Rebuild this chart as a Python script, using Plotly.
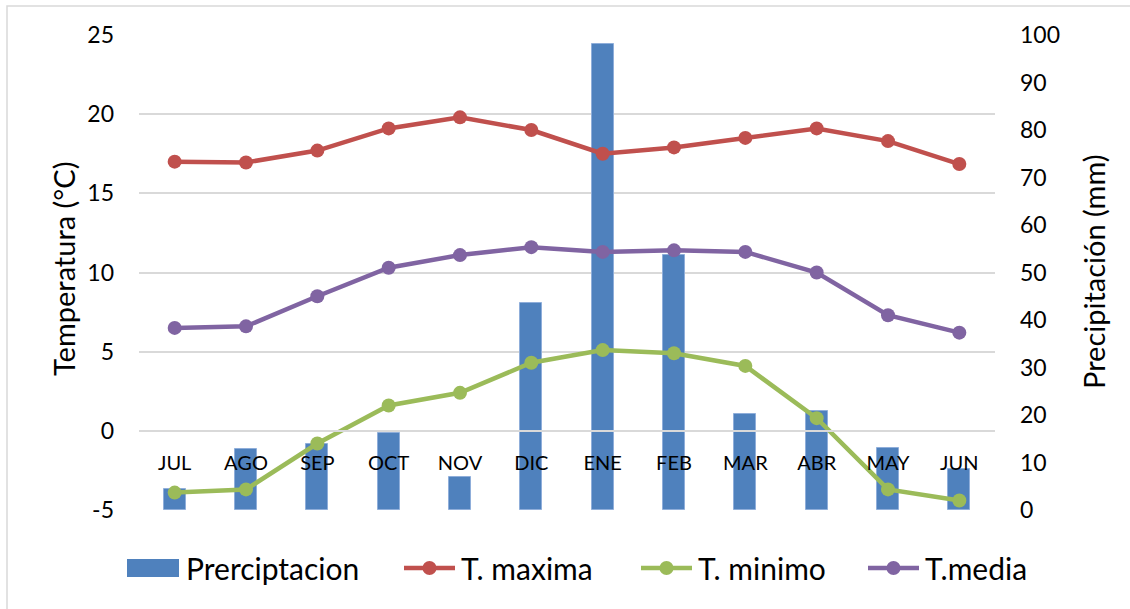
import plotly.graph_objects as go

# Monthly climate data (hydrological year, July to June)
months = ["JUL", "AGO", "SEP", "OCT", "NOV", "DIC", "ENE", "FEB", "MAR", "ABR", "MAY", "JUN"]
precipitacion = [4.5, 12.8, 14.0, 16.2, 7.0, 43.5, 98.2, 53.7, 20.2, 20.8, 13.0, 8.6]   # mm
t_maxima = [17.0, 16.95, 17.7, 19.1, 19.8, 19.0, 17.5, 17.9, 18.5, 19.1, 18.3, 16.85]    # °C
t_minimo = [-3.9, -3.7, -0.8, 1.6, 2.4, 4.3, 5.1, 4.9, 4.1, 0.8, -3.7, -4.4]             # °C
t_media = [6.5, 6.6, 8.5, 10.3, 11.1, 11.6, 11.3, 11.4, 11.3, 10.0, 7.3, 6.2]            # °C

temp_ticks = [-5, 0, 5, 10, 15, 20, 25]
temp_ticktext = ["-5", "0", "5", "10", "15", "20", "25"]
prec_ticks = list(range(0, 101, 10))

FONT = "Lato"
BLUE, RED, GREEN, PURPLE = "#4F81BD", "#C0504D", "#9BBB59", "#8064A2"
GRID = "#D9D9D9"

# plot-area geometry in pixels
W, H = 1130, 609
L, R, T, B = 139, 135, 35, 99
PW, PH = W - L - R, H - T - B


def px_x(x):
    return (x - L) / PW


def px_y(y):
    return (H - B - y) / PH


fig = go.Figure()

# precipitation bars on the right-hand (main) axis so that lines sit above them
fig.add_trace(go.Bar(
    x=months, y=precipitacion, name="Prerciptacion", yaxis="y",
    width=0.31, marker=dict(color=BLUE, line=dict(color="#8FAEDA", width=1)),
))

line_series = [("T. maxima", t_maxima, RED),
               ("T. minimo", t_minimo, GREEN),
               ("T.media", t_media, PURPLE)]
for name, vals, col in line_series:
    fig.add_trace(go.Scatter(
        x=months, y=vals, name=name, yaxis="y2", mode="lines+markers",
        line=dict(color=col, width=4.5), marker=dict(color=col, size=14),
    ))

# hand-built legend row along the bottom
LEG_Y = 568
shapes = [
    dict(type="rect", xref="paper", yref="paper",
         x0=px_x(7), x1=px_x(1140), y0=px_y(620), y1=px_y(6),
         line=dict(color=GRID, width=1.5), fillcolor="rgba(0,0,0,0)", layer="below"),
    dict(type="rect", xref="paper", yref="paper",
         x0=px_x(127), x1=px_x(179), y0=px_y(577), y1=px_y(559),
         line=dict(width=0), fillcolor=BLUE),
]
annotations = [
    dict(text="Prerciptacion", x=px_x(184), y=px_y(LEG_Y), xref="paper", yref="paper",
         xanchor="left", yanchor="middle", showarrow=False, font=dict(size=30, family=FONT)),
]
legend_x = [402, 639, 866]
for (name, _, col), x0 in zip(line_series, legend_x):
    x1 = x0 + 55
    xm = (x0 + x1) / 2
    shapes.append(dict(type="line", xref="paper", yref="paper",
                       x0=px_x(x0 + 2), x1=px_x(x1 - 2), y0=px_y(LEG_Y), y1=px_y(LEG_Y),
                       line=dict(color=col, width=4.5)))
    shapes.append(dict(type="circle", xref="paper", yref="paper",
                       x0=px_x(xm - 7), x1=px_x(xm + 7), y0=px_y(LEG_Y + 7), y1=px_y(LEG_Y - 7),
                       line=dict(width=0), fillcolor=col))
    annotations.append(dict(text=name, x=px_x(x1 + 2), y=px_y(LEG_Y), xref="paper", yref="paper",
                            xanchor="left", yanchor="middle", showarrow=False,
                            font=dict(size=30, family=FONT)))

annotations += [
    dict(text="Temperatura (°C)", x=px_x(63), y=px_y(269), xref="paper", yref="paper",
         textangle=-90, showarrow=False, font=dict(size=29, family=FONT),
         xanchor="center", yanchor="middle"),
    dict(text="Precipitación (mm)", x=px_x(1093), y=px_y(272), xref="paper", yref="paper",
         textangle=-90, showarrow=False, font=dict(size=29, family=FONT),
         xanchor="center", yanchor="middle"),
]

fig.update_layout(
    width=W, height=H,
    margin=dict(l=L, r=R, t=T, b=B),
    paper_bgcolor="white", plot_bgcolor="white",
    font=dict(family=FONT, color="#000000"),
    showlegend=False,
    bargap=0,
    xaxis=dict(
        type="category", anchor="free", position=1 / 6,
        showgrid=False, zeroline=False, showline=True, linecolor=GRID, linewidth=1.5,
        ticks="", ticklabelstandoff=14, tickfont=dict(size=20, family=FONT),
        range=[-0.5, 11.5], layer="above traces",
    ),
    yaxis=dict(
        side="right", range=[0, 100], tickvals=prec_ticks,
        showgrid=False, zeroline=False, showline=False, ticks="",
        ticklabelstandoff=24, tickfont=dict(size=23, family=FONT),
    ),
    yaxis2=dict(
        overlaying="y", side="left", range=[-5, 25],
        tickvals=temp_ticks, ticktext=temp_ticktext,
        showgrid=True, gridcolor=GRID, gridwidth=1.5, zeroline=False, showline=False,
        ticks="", ticklabelstandoff=24, tickfont=dict(size=23, family=FONT),
    ),
    annotations=annotations,
    shapes=shapes,
)

fig.write_html("out.html")
